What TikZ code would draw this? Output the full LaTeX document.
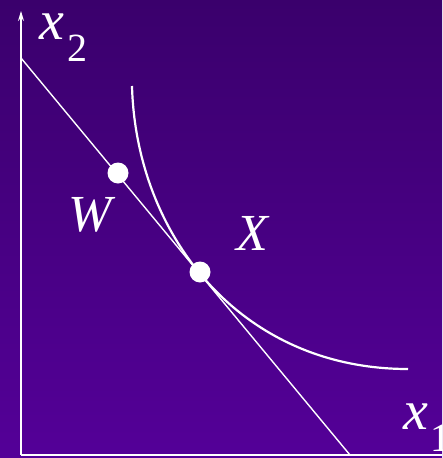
\documentclass[tikz,border=0pt]{standalone}
\usepackage{fontspec}
\setmainfont{Liberation Serif}
\usetikzlibrary{arrows.meta}
\definecolor{bgtop}{RGB}{58,0,108}
\definecolor{bgbot}{RGB}{84,0,152}
\tikzset{
  axisline/.style={white, line width=1.3pt},
  budget/.style={white, line width=1.4pt},
  icurve/.style={white, line width=2.2pt},
  bundle/.style={circle, fill=white, inner sep=0pt, minimum size=21pt},
  biglabel/.style={white, inner sep=0pt, font=\fontsize{52}{52}\selectfont\itshape},
  axlabel/.style={white, inner sep=0pt, font=\fontsize{56}{56}\selectfont\itshape},
  sublabel/.style={white, inner sep=0pt, font=\fontsize{40}{40}\selectfont},
}
\begin{document}
\begin{tikzpicture}[x=1pt,y=-1pt]
\shade[top color=bgtop, bottom color=bgbot] (0,0) rectangle (442,458);
\useasboundingbox (0,0) rectangle (442,458);
\coordinate (O) at (21,455);
\coordinate (ytop) at (21,11);
\coordinate (xend) at (442,455);
\coordinate (bA) at (21,58);
\coordinate (bB) at (350,455);
\coordinate (cA) at (132,86);
\coordinate (cB) at (408,369);
\draw[axisline, -{Stealth[length=10pt,width=6pt]}] (O) -- (ytop);
\draw[axisline] (O) -- (xend);
\draw[budget] (bA) -- (bB);
\draw[icurve] (cA) .. controls (136,235) and (240,369) .. (cB);
\node[bundle] (W) at (118,173) {};
\node[bundle] (X) at (200,272) {};
\node[biglabel] (Wl) at (90,215) {W};
\node[biglabel] (Xl) at (252,233) {X};
\node[axlabel] (x2) at (52,27) {x};
\node[sublabel] (x2s) at (77,48) {2};
\node[axlabel] (x1) at (416,417) {x};
\node[sublabel] (x1s) at (440,438) {1};
\end{tikzpicture}
\end{document}
